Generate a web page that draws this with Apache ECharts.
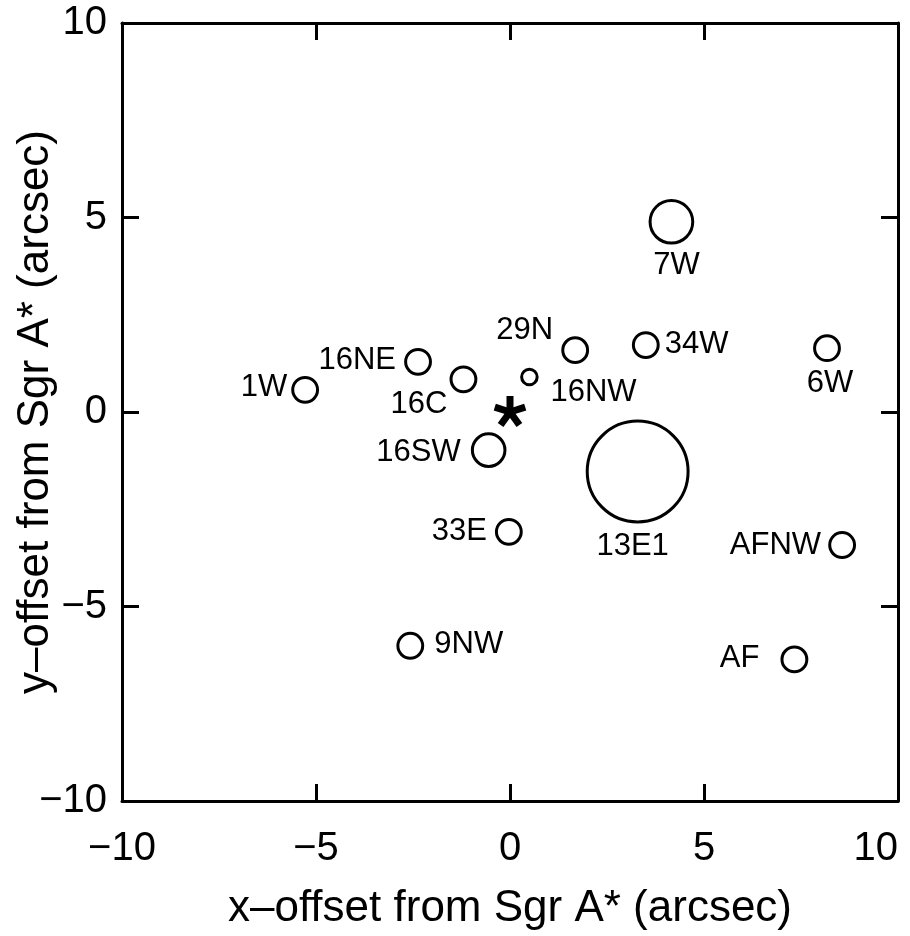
<!DOCTYPE html>
<html>
<head>
<meta charset="utf-8">
<script src="https://cdn.jsdelivr.net/npm/echarts@6/dist/echarts.min.js"></script>
<style>
  html, body { margin: 0; padding: 0; background: #fff; }
  #chart { width: 910px; height: 936px; }
</style>
</head>
<body>
<div id="chart"></div>
<script>
// Infrared sources around Sgr A*: offsets in arcsec, aperture radius in arcsec
const sourceNames = ['1W', '16NE', '16C', '16SW', '29N', '16NW', '34W', '6W', '7W', '13E1', '33E', 'AFNW', '9NW', 'AF'];
const xOffsets    = [-5.28, -2.37, -1.20, -0.55, 1.68, 0.50, 3.50, 8.17, 4.16, 3.29, -0.03, 8.56, -2.57, 7.33];
const yOffsets    = [0.57, 1.29, 0.84, -0.98, 1.59, 0.90, 1.72, 1.64, 4.89, -1.53, -3.08, -3.42, -6.01, -6.36];
const apertureRadius = [0.32, 0.32, 0.32, 0.42, 0.32, 0.20, 0.32, 0.32, 0.55, 1.30, 0.32, 0.32, 0.32, 0.32];

// Sgr A* position
const sgrA = [0, 0];

// Axis ticks (both axes)
const axisTicks = [-10, -5, 0, 5, 10];

const FONT = '"Liberation Sans", Arial, Helvetica, sans-serif';

// Label placement relative to each circle centre (pixels)
const labelPlacement = {
  '1W':   { dx: -18, dy: -2,  align: 'right' },
  '16NE': { dx: -22, dy: -1,  align: 'right' },
  '16C':  { dx: -16, dy: 25,  align: 'right' },
  '16SW': { dx: -28, dy: 2,   align: 'right' },
  '29N':  { dx: -22, dy: -20, align: 'right' },
  '16NW': { dx: 21,  dy: 15,  align: 'left' },
  '34W':  { dx: 19,  dy: -1,  align: 'left' },
  '6W':   { dx: 3,   dy: 35,  align: 'center' },
  '7W':   { dx: 5,   dy: 44,  align: 'center' },
  '13E1': { dx: -5,  dy: 75,  align: 'center' },
  '33E':  { dx: -22, dy: 0,   align: 'right' },
  'AFNW': { dx: -21, dy: 0,   align: 'right' },
  '9NW':  { dx: 24,  dy: -1,  align: 'left' },
  'AF':   { dx: -35, dy: -1,  align: 'right' }
};

const fmt = v => (v < 0 ? '\u2212' + Math.abs(v) : String(v));

function axisBase(pos, showLabels, name) {
  const horizontal = pos === 'bottom' || pos === 'top';
  const ax = {
    type: 'value',
    position: pos,
    min: axisTicks[0],
    max: axisTicks[axisTicks.length - 1],
    interval: axisTicks[1] - axisTicks[0],
    splitLine: { show: false },
    axisLine: { show: true, onZero: false, lineStyle: { color: '#000', width: 3 } },
    axisTick: { show: true, inside: true, length: 17, lineStyle: { color: '#000', width: 3 } },
    axisLabel: {
      show: showLabels,
      color: '#000',
      fontFamily: FONT,
      fontSize: 40,
      margin: horizontal ? 28 : 15,
      formatter: fmt
    }
  };
  if (horizontal && showLabels) ax.axisLabel.alignMaxLabel = 'right';
  if (name) {
    ax.name = name;
    ax.nameLocation = 'middle';
    ax.nameMoveOverlap = false;
    ax.nameGap = horizontal ? 86 : 64;
    ax.nameTextStyle = { color: '#000', fontFamily: FONT, fontSize: 44 };
  }
  return ax;
}

const chart = echarts.init(document.getElementById('chart'), null, { renderer: 'canvas' });

chart.setOption({
  backgroundColor: '#fff',
  animation: false,
  grid: { left: 122, right: 12, top: 23, bottom: 135, outerBoundsMode: 'none', containLabel: false },
  xAxis: [
    axisBase('bottom', true, 'x\u2013offset from Sgr A* (arcsec)'),
    axisBase('top', false)
  ],
  yAxis: [
    axisBase('left', true, 'y\u2013offset from Sgr A* (arcsec)'),
    axisBase('right', false)
  ],
  series: [
    {
      type: 'custom',
      name: 'sources',
      clip: false,
      encode: { x: 0, y: 1 },
      data: sourceNames.map((n, i) => [xOffsets[i], yOffsets[i], apertureRadius[i]]),
      renderItem(params, api) {
        const i = params.dataIndex;
        const c = api.coord([api.value(0), api.value(1)]);
        const r = api.size([api.value(2), 0])[0];
        const name = sourceNames[i];
        const p = labelPlacement[name];
        return {
          type: 'group',
          children: [
            {
              type: 'circle',
              shape: { cx: c[0], cy: c[1], r: r },
              style: { fill: 'none', stroke: '#000', lineWidth: 3 }
            },
            {
              type: 'text',
              x: c[0] + p.dx,
              y: c[1] + p.dy,
              style: {
                text: name,
                fill: '#000',
                fontSize: 31,
                fontFamily: FONT,
                align: p.align,
                verticalAlign: 'middle'
              }
            }
          ]
        };
      }
    },
    {
      type: 'custom',
      name: 'Sgr A*',
      clip: false,
      encode: { x: 0, y: 1 },
      data: [sgrA],
      renderItem(params, api) {
        const c = api.coord([api.value(0), api.value(1)]);
        const armLen = 16;
        const arms = [];
        for (let k = 0; k < 5; k++) {
          const ang = -Math.PI / 2 + k * 2 * Math.PI / 5;
          arms.push({
            type: 'line',
            shape: { x1: c[0], y1: c[1], x2: c[0] + armLen * Math.cos(ang), y2: c[1] + armLen * Math.sin(ang) },
            style: { stroke: '#000', lineWidth: 7, lineCap: 'butt' }
          });
        }
        return { type: 'group', children: arms };
      }
    }
  ]
});
</script>
</body>
</html>
